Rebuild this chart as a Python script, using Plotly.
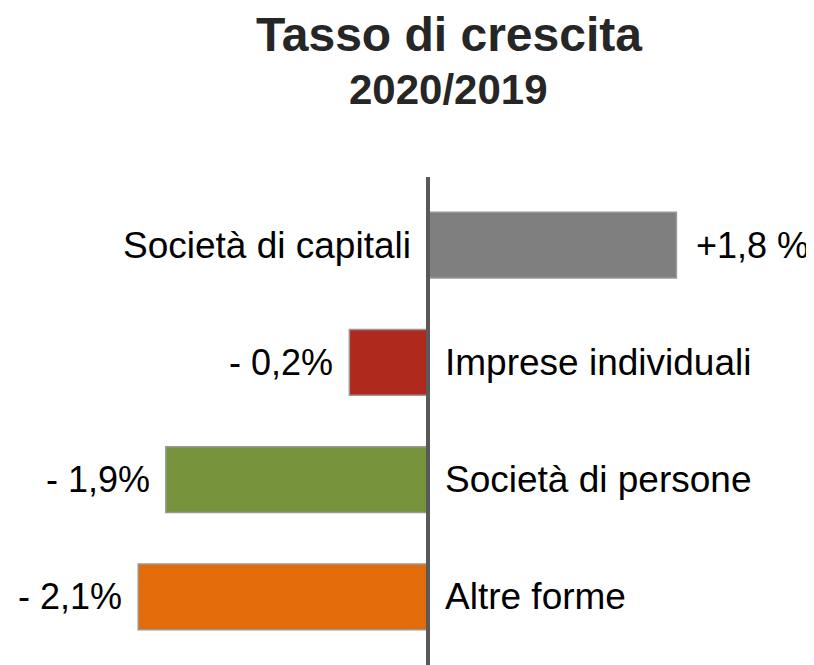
import plotly.graph_objects as go

categories = ["Società di capitali", "Imprese individuali", "Società di persone", "Altre forme"]
# bar lengths as drawn in the picture (percentage points)
values = [1.8, -0.57, -1.9, -2.1]
value_labels = ["+1,8 %", "- 0,2%", "- 1,9%", "- 2,1%"]
colors = ["#7f7f7f", "#b0291d", "#77933c", "#e36c0a"]

FONT = "Liberation Sans, Arial, sans-serif"

# page body has an 8px margin, so the figure is drawn 8px smaller
W, H = 806, 657
ZERO_PX = 420   # x of the axis line inside the figure
PX_PER_UNIT = 138

fig = go.Figure(go.Bar(
    x=values,
    y=categories,
    orientation="h",
    width=0.56,
    marker=dict(color=colors, line=dict(color="#999999", width=1.5)),
    hoverinfo="skip",
))

annotations = []
for cat, val, lab in zip(categories, values, value_labels):
    pos = val >= 0
    # category name on the opposite side of the axis
    annotations.append(dict(
        x=0, y=cat, xref="x", yref="y", text=cat, showarrow=False,
        xanchor="right" if pos else "left", xshift=-15 if pos else 15,
        font=dict(size=37, color="#000000", family=FONT),
    ))
    # value label at the end of the bar
    annotations.append(dict(
        x=val, y=cat, xref="x", yref="y", text=lab, showarrow=False,
        xanchor="left" if pos else "right", xshift=18 if pos else -14,
        font=dict(size=36, color="#000000", family=FONT),
    ))

annotations.append(dict(
    x=0.5471, y=1.293, xref="paper", yref="paper", showarrow=False,
    text="<b>Tasso di crescita</b>", xanchor="center", yanchor="middle",
    font=dict(size=48, color="#262626", family=FONT),
))
annotations.append(dict(
    x=0.5471, y=1.180, xref="paper", yref="paper", showarrow=False,
    text="<b>2020/2019</b>", xanchor="center", yanchor="middle",
    font=dict(size=42, color="#262626", family=FONT),
))

fig.update_layout(
    width=W, height=H,
    margin=dict(l=0, r=0, t=169, b=0),
    paper_bgcolor="white", plot_bgcolor="white",
    showlegend=False,
    annotations=annotations,
    shapes=[dict(type="line", xref="x", yref="paper", x0=0, x1=0, y0=0, y1=1,
                 line=dict(color="#595959", width=4), layer="above")],
    xaxis=dict(range=[-ZERO_PX / PX_PER_UNIT, (W - ZERO_PX) / PX_PER_UNIT],
               visible=False, fixedrange=True),
    yaxis=dict(type="category", categoryarray=categories, range=[3.58, -0.58],
               visible=False, fixedrange=True),
)

fig.write_html("out.html")
